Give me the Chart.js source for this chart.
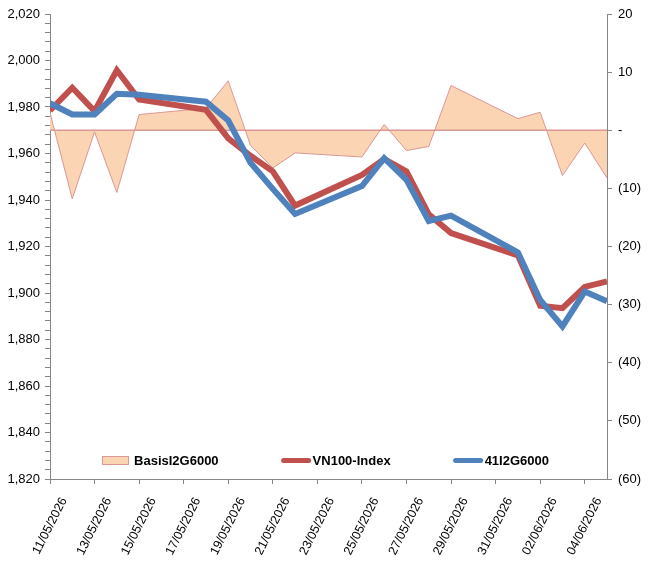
<!DOCTYPE html>
<html>
<head>
<meta charset="utf-8">
<title>VN100-Index / 41I2G6000 / Basis</title>
<script src="https://cdn.jsdelivr.net/npm/chart.js@4.4.1/dist/chart.umd.min.js"></script>
<style>
  html, body { margin: 0; padding: 0; background: #fff; }
  #wrap { width: 648px; height: 566px; position: relative; }
</style>
</head>
<body>
<div id="wrap"><canvas id="myChart"></canvas></div>
<script>
'use strict'

// Data (trading days only)
const dates = [
  '11/05/2026', '12/05/2026', '13/05/2026', '14/05/2026', '15/05/2026',
  '18/05/2026', '19/05/2026', '20/05/2026', '21/05/2026', '22/05/2026',
  '25/05/2026', '26/05/2026', '27/05/2026', '28/05/2026', '29/05/2026',
  '01/06/2026', '02/06/2026', '03/06/2026', '04/06/2026', '05/06/2026'
];
const vn100 = [1978.5, 1988.3, 1978.2, 1995.8, 1983.2, 1978.8, 1966.5, 1959, 1952.3, 1937.6,
  1950.8, 1957.6, 1952.3, 1933.8, 1925.8, 1916.2, 1894.5, 1893.5, 1902.6, 1905];
const futures = [1981.6, 1976.8, 1976.8, 1985.7, 1985.3, 1982.3, 1974.2, 1956, 1944.8, 1934,
  1946, 1958, 1948.7, 1931, 1933.3, 1917.5, 1897, 1885.6, 1900.6, 1896.4];
const basis = [3.0, -11.8, -0.3, -10.7, 2.7, 3.8, 8.5, -2.6, -6.5, -3.9,
  -4.6, 1.0, -3.5, -2.8, 7.7, 2.0, 3.1, -7.8, -2.2, -8.2];

const leftRange = [1820, 2020];   // index axis
const rightRange = [-60, 20];     // basis axis
const leftLabelStep = 20;
const leftMinorStep = 4;
const rightStep = 10;
const dateTickStep = 2;

const axisColor = '#868686';
const basisFill = '#FBD4B4';
const basisLine = '#D99795';
const fontFamily = '"Liberation Sans", Arial, sans-serif';

// day offsets from the first date, so the x axis behaves like a date axis
function parseDate(str) {
  const parts = str.split('/').map(Number);
  return Date.UTC(parts[2], parts[1] - 1, parts[0]);
}
const day0 = parseDate(dates[0]);
const dayMs = 86400000;
function dayIndex(str) {
  return Math.round((parseDate(str) - day0) / dayMs);
}
function formatDay(offset) {
  const d = new Date(day0 + offset * dayMs);
  const dd = String(d.getUTCDate()).padStart(2, '0');
  const mm = String(d.getUTCMonth() + 1).padStart(2, '0');
  return `${dd}/${mm}/${d.getUTCFullYear()}`;
}

function toPoints(values) {
  let points = [];
  for (let i = 0; i < dates.length; i++) {
    points.push({x: dayIndex(dates[i]), y: values[i]});
  }
  return points;
}

// Excel style accounting labels on the right axis
function formatBasis(v) {
  if (v === 0) return '-';
  if (v < 0) return `(${-v})`;
  return String(v);
}

// zero line of the area, drawn right after the area so the lines stay on top
const zeroLine = {
  id: 'zeroLine',
  afterDatasetDraw(chart, args) {
    if (args.index !== 0) return;
    const {ctx, chartArea} = chart;
    const y = chart.scales.y1.getPixelForValue(0);
    ctx.save();
    ctx.strokeStyle = basisLine;
    ctx.lineWidth = 1.5;
    ctx.beginPath();
    ctx.moveTo(chartArea.left, y);
    ctx.lineTo(chartArea.right, y);
    ctx.stroke();
    ctx.restore();
  }
};

// legend sits inside the plot, along the bottom
const legendInside = {
  id: 'legendInside',
  afterDraw(chart) {
    const {ctx, chartArea} = chart;
    const symbolW = 30;
    const textGap = 2;
    const itemGap = 62;
    ctx.save();
    ctx.font = `bold 13px ${fontFamily}`;
    let items = chart.data.datasets.map(ds => ({ds: ds, w: symbolW + textGap + ctx.measureText(ds.label).width}));
    let total = itemGap * (items.length - 1);
    items.forEach(it => { total += it.w; });
    let x = (chartArea.left + chartArea.right) / 2 - total / 2 - 3;
    const y = chartArea.bottom - 18.5;
    items.forEach(it => {
      const ds = it.ds;
      if (ds.fill) {
        ctx.fillStyle = ds.backgroundColor;
        ctx.fillRect(x, y - 4.5, 27, 9);
        ctx.strokeStyle = ds.borderColor;
        ctx.lineWidth = 1;
        ctx.strokeRect(x + 0.5, y - 4, 26, 8);
      } else {
        ctx.strokeStyle = ds.borderColor;
        ctx.lineWidth = 5;
        ctx.lineCap = 'round';
        ctx.beginPath();
        ctx.moveTo(x + 3, y);
        ctx.lineTo(x + symbolW - 2, y);
        ctx.stroke();
      }
      ctx.fillStyle = '#000';
      ctx.textBaseline = 'middle';
      ctx.fillText(ds.label, x + symbolW + textGap, y + 0.5);
      x += it.w + itemGap;
    });
    ctx.restore();
  }
};

const data = {
  datasets: [{
    label: 'BasisI2G6000',
    data: toPoints(basis),
    yAxisID: 'y1',
    fill: 'origin',
    backgroundColor: basisFill,
    borderColor: basisLine,
    borderWidth: 1,
    order: 3
  },
  {
    label: 'VN100-Index',
    data: toPoints(vn100),
    yAxisID: 'y',
    fill: false,
    borderColor: '#C0504D',
    borderWidth: 6,
    order: 2
  },
  {
    label: '41I2G6000',
    data: toPoints(futures),
    yAxisID: 'y',
    fill: false,
    borderColor: '#4F81BD',
    borderWidth: 6,
    order: 1
  }]
};

const tickFont = {family: fontFamily, size: 13};

const config = {
  type: 'line',
  data: data,
  options: {
    responsive: true,
    maintainAspectRatio: false,
    animation: false,
    events: [],
    layout: {padding: {top: 14, left: 0, right: 0, bottom: 0}},
    elements: {
      point: {radius: 0},
      line: {tension: 0, borderJoinStyle: 'miter', borderCapStyle: 'butt'}
    },
    plugins: {
      legend: {display: false},
      tooltip: {enabled: false}
    },
    scales: {
      x: {
        type: 'linear',
        min: dayIndex(dates[0]),
        max: dayIndex(dates[dates.length - 1]),
        border: {color: axisColor, width: 1},
        grid: {display: true, drawOnChartArea: false, drawTicks: true, tickLength: 5, tickColor: axisColor},
        ticks: {
          stepSize: dateTickStep,
          includeBounds: false,
          autoSkip: false,
          minRotation: 63,
          maxRotation: 63,
          labelOffset: 14,
          padding: 11,
          color: '#000',
          font: {family: fontFamily, size: 12.5},
          callback: value => formatDay(value)
        },
        afterFit: scale => { scale.height = 87; }
      },
      y: {
        position: 'left',
        min: leftRange[0],
        max: leftRange[1],
        border: {color: axisColor, width: 1},
        grid: {display: true, drawOnChartArea: false, drawTicks: true, tickLength: 5, tickColor: axisColor},
        ticks: {
          stepSize: leftMinorStep,
          autoSkip: false,
          padding: 5,
          color: '#000',
          font: tickFont,
          callback: value => (value % leftLabelStep === 0 ? value.toLocaleString('en-US') : '')
        },
        afterFit: scale => { scale.width = 50; }
      },
      y1: {
        position: 'right',
        min: rightRange[0],
        max: rightRange[1],
        border: {color: axisColor, width: 1},
        grid: {display: true, drawOnChartArea: false, drawTicks: true, tickLength: 5, tickColor: axisColor},
        ticks: {
          stepSize: rightStep,
          autoSkip: false,
          padding: 6,
          color: '#000',
          font: tickFont,
          callback: value => formatBasis(value)
        },
        afterFit: scale => { scale.width = 41; }
      }
    }
  },
  plugins: [zeroLine, legendInside]
};

let canvasChart = document.getElementById('myChart');
const myChart = new Chart(canvasChart, config);
</script>
</body>
</html>
